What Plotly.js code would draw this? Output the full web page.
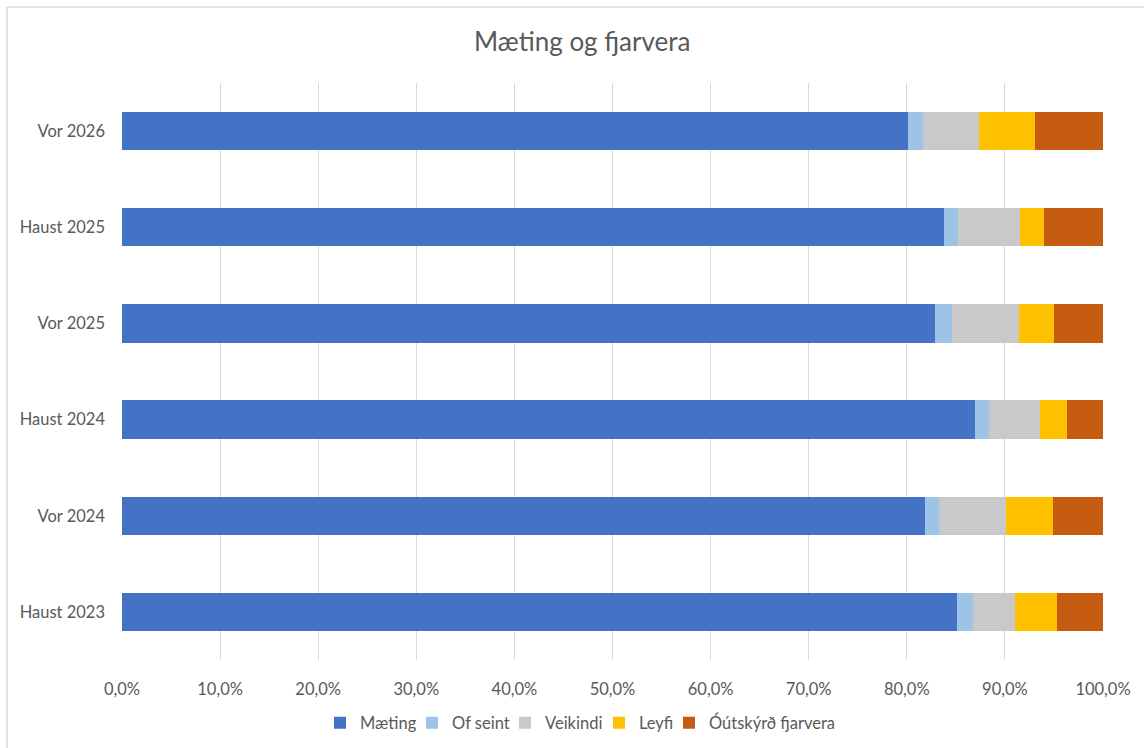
<!DOCTYPE html>
<html>
<head>
<meta charset="utf-8">
<script src="https://cdn.plot.ly/plotly-3.0.1.min.js"></script>
<style>
html,body{margin:0;padding:0;background:#fff;}
#chart{width:1144px;height:748px;}
</style>
</head>
<body>
<div id="chart"></div>
<script>
const categories = ["Haust 2023", "Vor 2024", "Haust 2024", "Vor 2025", "Haust 2025", "Vor 2026"];
const maeting   = [85.1, 81.9, 87.0, 82.9, 83.8, 80.1];
const ofSeint   = [1.6, 1.4, 1.4, 1.7, 1.4, 1.6];
const veikindi  = [4.3, 6.8, 5.2, 6.8, 6.3, 5.7];
const leyfi     = [4.3, 4.8, 2.7, 3.6, 2.5, 5.7];
const outskyrd  = [4.7, 5.1, 3.7, 5.0, 6.0, 6.9];
const seriesNames = ["Mæting", "Of seint", "Veikindi", "Leyfi", "Óútskýrð fjarvera"];
const seriesColors = ["#4472C4", "#9DC3E6", "#C9C9C9", "#FFC000", "#C55A11"];
const tickVals = [0,10,20,30,40,50,60,70,80,90,100];
const tickText = ["0,0%","10,0%","20,0%","30,0%","40,0%","50,0%","60,0%","70,0%","80,0%","90,0%","100,0%"];

const legendIds = ["legend", "legend2", "legend3", "legend4", "legend5"];
const legendPx = [320, 412, 505, 599, 669];

const data = [maeting, ofSeint, veikindi, leyfi, outskyrd].map((vals, i) => ({
  type: "bar",
  orientation: "h",
  y: categories,
  x: vals,
  name: seriesNames[i],
  legend: legendIds[i],
  marker: {color: seriesColors[i], line: {width: 0}},
  hoverinfo: "x+name"
}));

const font = "Lato, 'Open Sans', sans-serif";
const W = 1144, H = 748;
const layout = {
  width: W, height: H,
  barmode: "stack",
  bargap: 0.6,
  paper_bgcolor: "#fff",
  plot_bgcolor: "#fff",
  margin: {l: 122, r: 41, t: 83, b: 88},
  font: {family: font, color: "#595959", size: 16.5},
  title: {text: "Mæting og fjarvera", x: 0.509, xanchor: "center", y: 0.944, yanchor: "middle",
          font: {family: font, size: 26, color: "#595959"}},
  xaxis: {
    range: [0, 100], tickvals: tickVals, ticktext: tickText,
    showgrid: true, gridcolor: "#D9D9D9", gridwidth: 1,
    zeroline: false, showline: false, ticks: "", ticklen: 0,
    ticklabelstandoff: 17,
    tickfont: {size: 16.5, color: "#595959"}, automargin: false
  },
  yaxis: {
    showgrid: false, zeroline: false, showline: false, ticks: "",
    ticklabelstandoff: 16,
    tickfont: {size: 16.5, color: "#595959"}, automargin: false
  },
  showlegend: true,
  shapes: [
    {type: "line", xref: "paper", yref: "paper", x0: -0.1172, x1: 1.05, y0: 1.1316, y1: 1.1316,
     line: {color: "#D9D9D9", width: 1.5}},
    {type: "line", xref: "paper", yref: "paper", x0: -0.1172, x1: -0.1172, y0: -0.2, y1: 1.1316,
     line: {color: "#D9D9D9", width: 1.5}}
  ]
};
legendIds.forEach((id, i) => {
  layout[id] = {
    orientation: "h", xref: "container", yref: "container",
    x: legendPx[i] / W, xanchor: "left",
    y: 1 - 723 / H, yanchor: "middle",
    font: {size: 16.5, color: "#595959"}, itemwidth: 30,
    bgcolor: "rgba(0,0,0,0)"
  };
});
Plotly.newPlot("chart", data, layout, {displayModeBar: false, staticPlot: true});
</script>
</body>
</html>
